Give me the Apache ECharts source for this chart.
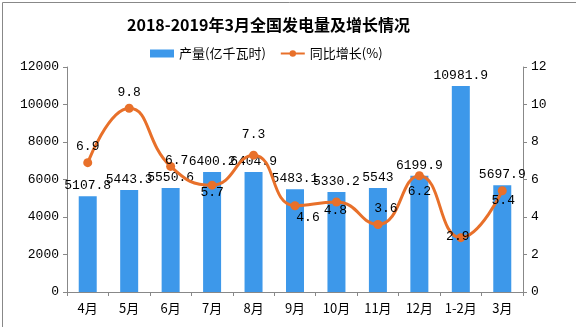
<!DOCTYPE html>
<html><head><meta charset="utf-8">
<script src="https://cdn.jsdelivr.net/npm/echarts@6/dist/echarts.min.js"></script>
<style>html,body{margin:0;padding:0;background:#fff}#c{width:576px;height:327px}</style>
</head><body><div id="c"></div>
<script>
const categories = ['4月','5月','6月','7月','8月','9月','10月','11月','12月','1-2月','3月'];
const production = [5107.8, 5443.3, 5550.6, 6400.2, 6404.9, 5483.1, 5330.2, 5543, 6199.9, 10981.9, 5697.9];
const growth = [6.9, 9.8, 6.7, 5.7, 7.3, 4.6, 4.8, 3.6, 6.2, 2.9, 5.4];
const leftTicks = [0, 2000, 4000, 6000, 8000, 10000, 12000];
const rightTicks = [0, 2, 4, 6, 8, 10, 12];
const growthLabelOffsets = [[0,-16],[0,-16],[6,-6],[0,7],[0,-21],[13,12],[-1,9],[8,-16],[0,16],[-3,-1],[1,10]];

const mono = "'Liberation Mono','DejaVu Sans Mono',monospace";
const cjk = "'Noto Sans CJK SC','Noto Sans',sans-serif";
const barColor = '#3D98EA';
const lineColor = '#E8702A';

const chart = echarts.init(document.getElementById('c'));
chart.setOption({
  animation: false,
  backgroundColor: '#fff',
  title: {
    text: '2018-2019年3月全国发电量及增长情况',
    left: 122, top: 12,
    textStyle: {fontFamily: cjk, fontSize: 16, fontWeight: 'bold', color: '#000'}
  },
  legend: {
    left: 145, top: 42, itemGap: 14, itemWidth: 24, itemHeight: 8,
    textStyle: {fontFamily: cjk, fontSize: 13, color: '#000'},
    data: [
      {name: '产量(亿千瓦时)', icon: 'rect'},
      {name: '同比增长(%)'}
    ]
  },
  grid: {left: 67, right: 53, top: 67, bottom: 35},
  xAxis: {
    type: 'category', data: categories, boundaryGap: true,
    axisLine: {lineStyle: {color: '#888'}},
    axisTick: {show: true, alignWithLabel: false, length: 4, lineStyle: {color: '#888'}},
    axisLabel: {fontFamily: cjk, fontSize: 13, color: '#000', margin: 10, interval: 0}
  },
  yAxis: [
    {
      type: 'value', min: leftTicks[0], max: leftTicks[leftTicks.length-1], interval: 2000,
      axisLine: {show: true, lineStyle: {color: '#888'}},
      axisTick: {show: true, length: 4, lineStyle: {color: '#888'}},
      splitLine: {show: false},
      axisLabel: {fontFamily: mono, fontSize: 13, color: '#000', margin: 8, formatter: v => String(v)}
    },
    {
      type: 'value', min: rightTicks[0], max: rightTicks[rightTicks.length-1], interval: 2,
      position: 'right',
      axisLine: {show: true, lineStyle: {color: '#888'}},
      axisTick: {show: true, length: 4, lineStyle: {color: '#888'}},
      splitLine: {show: false},
      axisLabel: {fontFamily: mono, fontSize: 13, color: '#000', margin: 8, formatter: v => String(v)}
    }
  ],
  series: [
    {
      name: '产量(亿千瓦时)', type: 'bar', yAxisIndex: 0, barWidth: 18,
      itemStyle: {color: barColor},
      label: {show: true, position: 'top', distance: 4, fontFamily: mono, fontSize: 13, color: '#000'},
      data: production
    },
    {
      name: '同比增长(%)', type: 'line', yAxisIndex: 1, smooth: true,
      symbol: 'circle', symbolSize: 9,
      lineStyle: {color: lineColor, width: 3},
      itemStyle: {color: lineColor},
      label: {show: true, position: 'inside', fontFamily: mono, fontSize: 13, color: '#000'},
      data: growth.map((v, i) => ({value: v, label: {offset: growthLabelOffsets[i]}})),
      z: 3
    }
  ],
  graphic: [{
    type: 'rect', left: 0, top: 0, z: 100, silent: true,
    shape: {x: 0.5, y: 0.5, width: 575, height: 326},
    style: {fill: 'none', stroke: '#888', lineWidth: 1}
  }]
});
</script></body></html>
